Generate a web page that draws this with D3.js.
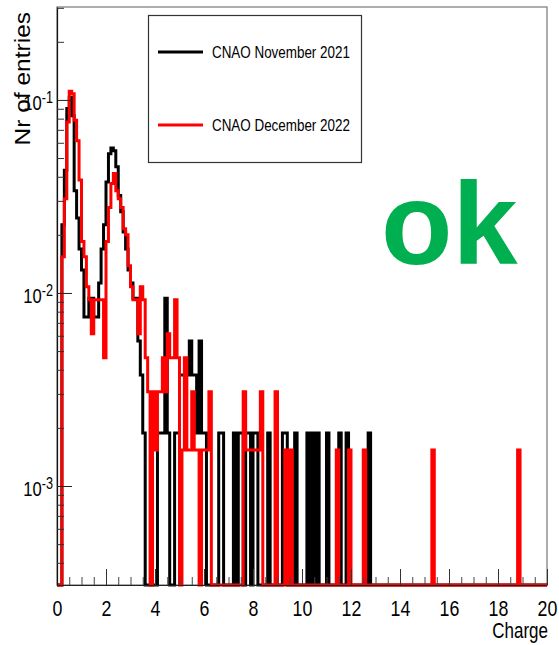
<!DOCTYPE html>
<html>
<head>
<meta charset="utf-8">
<script src="https://cdn.jsdelivr.net/npm/d3@7"></script>
<style>
  html, body { margin: 0; padding: 0; background: #ffffff; }
  svg { display: block; }
  text { font-family: "Liberation Sans", Arial, Helvetica, sans-serif; }
</style>
</head>
<body>
<svg id="chart" width="559" height="645"></svg>
<script>
// ---- data -------------------------------------------------------------
// Charge histograms, 200 bins of width 0.1 from 0 to 20 (counts per bin)
const binWidth = 0.1;
const chargeRange = [0, 20];

const countsNov2021 = [
  0, 0, 12, 23, 48, 55, 44, 18, 13, 9,
  7, 4, 4, 5, 5, 4, 4, 6, 9, 12,
  20, 28, 30, 29, 24, 17, 14, 11, 9, 7,
  6, 5, 5, 3, 2, 1, 0, 0, 0, 0,
  0, 1, 1, 1, 5, 1, 0, 0, 1, 1,
  2, 2, 2, 2, 3, 2, 2, 1, 3, 1,
  1, 0, 0, 0, 0, 0, 1, 1, 0, 0,
  0, 0, 1, 0, 1, 1, 0, 1, 1, 0,
  1, 1, 0, 0, 0, 0, 1, 0, 0, 0,
  0, 0, 1, 1, 0, 0, 0, 1, 0, 0,
  0, 0, 1, 0, 1, 0, 1, 0, 0, 0,
  1, 0, 0, 0, 0, 1, 0, 0, 1, 0,
  0, 0, 0, 0, 0, 0, 0, 1, 0, 0,
  0, 0, 0, 0, 0, 0, 0, 0, 0, 0,
  0, 0, 0, 0, 0, 0, 0, 0, 0, 0,
  0, 0, 0, 0, 0, 0, 0, 0, 0, 0,
  0, 0, 0, 0, 0, 0, 0, 0, 0, 0,
  0, 0, 0, 0, 0, 0, 0, 0, 0, 0,
  0, 0, 0, 0, 0, 0, 0, 0, 0, 0,
  0, 0, 0, 0, 0, 0, 0, 0, 0, 0
];

const countsDec2022 = [
  0, 0, 10, 20, 50, 72, 70, 51, 40, 25,
  12, 10, 7, 6, 4, 6, 6, 6, 6, 3,
  12, 18, 24, 27, 22, 20, 18, 14, 13, 9,
  7, 6, 6, 4, 7, 6, 3, 2, 0, 2,
  1, 2, 2, 3, 2, 4, 3, 3, 6, 3,
  0, 1, 3, 1, 1, 2, 1, 1, 0, 1,
  1, 1, 2, 0, 0, 0, 0, 0, 0, 0,
  0, 0, 0, 0, 0, 0, 2, 1, 1, 1,
  1, 1, 1, 2, 0, 0, 0, 0, 0, 2,
  0, 0, 0, 1, 0, 1, 0, 0, 0, 0,
  0, 0, 0, 0, 0, 0, 0, 0, 0, 0,
  0, 0, 0, 0, 1, 0, 0, 0, 0, 1,
  0, 0, 0, 0, 0, 1, 0, 0, 0, 0,
  0, 0, 0, 0, 0, 0, 0, 0, 0, 0,
  0, 0, 0, 0, 0, 0, 0, 0, 0, 0,
  0, 0, 0, 1, 0, 0, 0, 0, 0, 0,
  0, 0, 0, 0, 0, 0, 0, 0, 0, 0,
  0, 0, 0, 0, 0, 0, 0, 0, 0, 0,
  0, 0, 0, 0, 0, 0, 0, 0, 1, 0,
  0, 0, 0, 0, 0, 0, 0, 0, 0, 0
];

// total entries used to normalise each histogram
const entriesNov2021 = 532;
const entriesDec2022 = 650;

const seriesNames = ["CNAO November 2021", "CNAO December 2022"];
const seriesColors = ["#000000", "#ff0000"];

const xMajorTicks = [0, 2, 4, 6, 8, 10, 12, 14, 16, 18, 20];
const yRange = [3.07e-4, 0.303];
const yDecadeTicks = [1e-3, 1e-2, 1e-1];
const yDecadeExponents = ["-3", "-2", "-1"];

const xTitle = "Charge";
const yTitle = "Nr of entries";
const stampText = "ok";

// ---- layout -----------------------------------------------------------
const frame = { left: 57, right: 547, top: 7, bottom: 585 };
const squeeze = 0.79;   // narrow glyph width used by the axis/legend text

const svg = d3.select("#chart");

const x = d3.scaleLinear().domain(chargeRange).range([frame.left, frame.right]);
const y = d3.scaleLog().domain(yRange).range([frame.bottom, frame.top]);

// frame box
svg.append("rect")
  .attr("x", frame.left).attr("y", frame.top)
  .attr("width", frame.right - frame.left)
  .attr("height", frame.bottom - frame.top)
  .attr("fill", "none").attr("stroke", "#777").attr("stroke-width", 1.2);

// ---- histograms -------------------------------------------------------
function stepPoints(counts, entries) {
  const pts = counts.map((c, i) => ({ edge: i * binWidth, value: c > 0 ? c / entries : 0 }));
  pts.push({ edge: counts.length * binWidth, value: pts[pts.length - 1].value });
  return pts;
}

const stepLine = d3.line()
  .x(d => x(d.edge))
  .y(d => d.value > 0 ? y(d.value) : y(yRange[0]))
  .curve(d3.curveStepAfter);

const histos = [
  { counts: countsNov2021, entries: entriesNov2021, color: seriesColors[0] },
  { counts: countsDec2022, entries: entriesDec2022, color: seriesColors[1] }
];

svg.append("g").selectAll("path")
  .data(histos)
  .join("path")
  .attr("d", h => stepLine(stepPoints(h.counts, h.entries)))
  .attr("fill", "none")
  .attr("stroke", h => h.color)
  .attr("stroke-width", 3)
  .attr("stroke-linejoin", "miter")
  .attr("stroke-linecap", "butt");

// ---- x axis -----------------------------------------------------------
const xMinor = d3.range(0, 20.001, 0.5);
svg.append("g")
  .attr("transform", `translate(0,${frame.bottom})`)
  .call(d3.axisBottom(x).tickValues(xMinor).tickSizeInner(-8).tickSizeOuter(0).tickFormat(""))
  .call(g => g.selectAll("line").attr("stroke", "#444"))
  .call(g => g.select(".domain").attr("stroke", "#222").attr("stroke-width", 1.2));

const xAxisMajor = svg.append("g")
  .attr("transform", `translate(0,${frame.bottom})`)
  .call(d3.axisBottom(x).tickValues(xMajorTicks).tickSizeInner(-16).tickSizeOuter(0)
    .tickPadding(0).tickFormat(d3.format("d")));
xAxisMajor.select(".domain").remove();
xAxisMajor.selectAll("line").attr("stroke", "#333");
xAxisMajor.selectAll("text")
  .attr("y", 0).attr("dy", 0)
  .attr("transform", `translate(0,31) scale(${squeeze},1)`)
  .attr("fill", "#000")
  .style("font-size", "22.5px");

// ---- y axis -----------------------------------------------------------
const yMinor = [];
for (let e = -4; e <= -1; e++) {
  for (let m = 2; m <= 9; m++) {
    const v = m * Math.pow(10, e);
    if (v >= yRange[0] && v <= yRange[1]) yMinor.push(v);
  }
}
svg.append("g")
  .attr("transform", `translate(${frame.left},0)`)
  .call(d3.axisRight(y).tickValues(yMinor).tickSizeInner(7).tickSizeOuter(0).tickFormat(""))
  .call(g => g.selectAll("line").attr("stroke", "#333"))
  .call(g => g.select(".domain").attr("stroke", "#111").attr("stroke-width", 1.2));

svg.append("g")
  .attr("transform", `translate(${frame.left},0)`)
  .call(d3.axisRight(y).tickValues(yDecadeTicks).tickSizeInner(15).tickSizeOuter(0).tickFormat(""))
  .call(g => g.select(".domain").remove())
  .call(g => g.selectAll("line").attr("stroke", "#222"));

const yLabels = svg.append("g").selectAll("text")
  .data(yDecadeTicks)
  .join("text")
  .attr("transform", d => `translate(53,${y(d) + 10}) scale(${squeeze},1)`)
  .attr("text-anchor", "end")
  .attr("fill", "#000");
yLabels.append("tspan").style("font-size", "21px").text("10");
yLabels.append("tspan").attr("dy", -7).style("font-size", "16px")
  .text((d, i) => yDecadeExponents[i]);

// ---- axis titles ------------------------------------------------------
svg.append("text")
  .attr("transform", `translate(548,638) scale(${squeeze},1)`)
  .attr("text-anchor", "end")
  .style("font-size", "21.5px")
  .text(xTitle);

svg.append("text")
  .attr("transform", `translate(30,12) scale(0.9,1) rotate(-90)`)
  .attr("text-anchor", "end")
  .style("font-size", "24.5px")
  .text(yTitle);

// ---- legend -----------------------------------------------------------
const legend = svg.append("g");
legend.append("rect")
  .attr("x", 148.5).attr("y", 15.5).attr("width", 213).attr("height", 147)
  .attr("fill", "#fff").attr("stroke", "#333").attr("stroke-width", 1.2);

const legendRows = legend.selectAll("g.row")
  .data(seriesNames)
  .join("g")
  .attr("class", "row")
  .attr("transform", (d, i) => `translate(0,${[52, 125][i]})`);
legendRows.append("line")
  .attr("x1", 158).attr("x2", 203).attr("y1", 0).attr("y2", 0)
  .attr("stroke", (d, i) => seriesColors[i]).attr("stroke-width", 3);
legendRows.append("text")
  .attr("transform", `translate(212,6) scale(${squeeze},1)`)
  .style("font-size", "17px")
  .text(d => d);

// ---- stamp ------------------------------------------------------------
svg.append("text")
  .attr("x", 381).attr("y", 264)
  .style("font-size", "117px")
  .style("font-weight", "bold")
  .attr("fill", "#00b050")
  .text(stampText);
</script>
</body>
</html>
